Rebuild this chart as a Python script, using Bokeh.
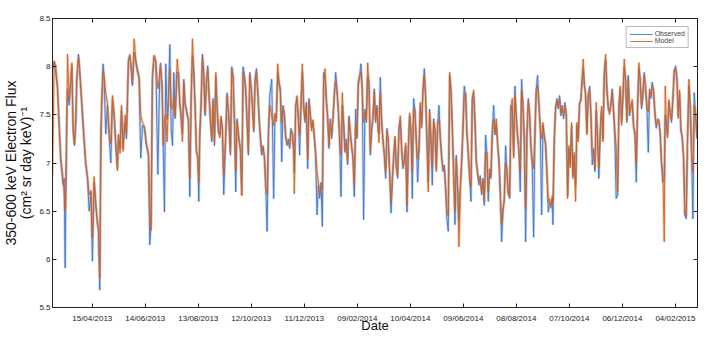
import pandas as pd
from bokeh.plotting import figure
from bokeh.models import (FixedTicker, LinearAxis, DatetimeAxis, Range1d, CustomLabelingPolicy,
                          Legend, LegendItem, DatetimeTickFormatter, ColumnDataSource)
from bokeh.embed import file_html
from bokeh.resources import INLINE

start_date = "2013-03-01"
end_date = "2015-03-01"

# days since start_date
days = [
 0, 1.9, 3.5, 5.7, 7.5, 8.3, 9.4, 10.6, 12.1, 13.2, 14.3, 15.8, 17.0, 18.9, 20.7, 21.9, 23.4, 24.9, 26.4, 27.5,
 29.4, 30.9, 33.2, 35.8, 37.7, 39.6, 41.5, 43.4, 45.2, 47.1, 49.0, 50.9, 52.0, 53.5, 54.7, 55.8, 57.3, 58.4, 60.3, 62.2,
 64.1, 66.0, 67.9, 69.8, 71.6, 73.5, 74.7, 76.5, 78.1, 79.9, 81.1, 82.2, 83.7, 86.0, 87.5, 89.0, 90.5, 92.4, 94.3, 96.2,
 98.0, 99.9, 101.8, 104.1, 106.3, 108.6, 110.1, 111.6, 113.1, 115.0, 116.9, 119.2, 121.4,
 122.2, 124.1, 125.2, 126.7, 128.2, 129.7, 131.2, 132.8, 134.3, 135.8, 137.3, 138.8, 141.1, 142.6, 144.1, 145.6, 147.1,
 148.6, 150.1, 151.6, 153.9, 155.4, 156.9, 158.4, 159.9, 161.4, 162.9, 164.4, 165.6, 166.7, 168.2, 169.7, 171.2, 172.7,
 174.2, 175.7, 177.3, 178.8, 180.3, 181.8, 183.3, 184.8, 186.3, 187.8, 189.3, 190.8, 192.3, 193.8, 195.7, 197.6, 199.5,
 201.4, 202.9, 204.4, 205.9, 207.4, 208.9, 210.8, 212.7, 214.2, 215.7, 217.2, 218.7, 220.2, 221.7, 223.3, 224.8, 226.3,
 227.8, 229.3, 230.8, 232.3, 233.8, 235.3, 236.8, 238.3, 239.9, 241.4, 242.9, 244.4, 245.9,
 248.1, 250.3, 251.8, 253.3, 254.9, 256.4, 257.9, 259.4, 260.9, 262.4, 263.9, 265.4, 266.9, 268.4, 269.9, 271.5, 273.0,
 273.7, 275.2, 276.7, 278.2, 279.7, 281.3, 282.8, 284.3, 285.8, 287.3, 288.8, 290.3, 291.8, 293.3, 294.8, 296.3, 297.8,
 299.4, 300.9, 302.4, 303.9, 305.4, 306.9, 308.4, 309.9, 311.4, 312.9, 314.4, 315.9, 317.5, 319.0, 320.5, 322.0, 323.5,
 325.0, 326.5, 328.0, 329.5, 331.0, 332.5, 334.0, 335.6, 337.1, 338.6, 340.1, 341.6, 343.1, 344.6, 346.1, 347.6, 349.1,
 350.6, 352.1, 353.7, 355.2, 356.7, 358.2, 359.7, 361.2, 362.7, 364.2, 365.7, 367.2, 368.7,
 369.5, 371.0, 372.5, 374.0, 375.5, 377.1, 378.6, 380.1, 381.6, 383.1, 384.6, 386.1, 387.6, 389.1, 390.6, 392.1, 393.6,
 395.2, 396.7, 398.2, 399.7, 401.2, 402.7, 404.2, 405.7, 407.2, 408.7, 410.2, 411.7, 413.3, 414.8, 416.3, 417.8, 419.3,
 420.8, 422.3, 423.8, 425.3, 426.8, 428.3, 429.8, 431.4, 432.9, 434.4, 435.9, 437.4, 438.9, 440.4, 441.9, 443.4, 444.9,
 446.4, 447.9, 449.5, 451.0, 452.5, 454.0, 455.5, 457.0, 458.5, 460.0, 461.5, 463.0, 464.5, 466.0, 467.6, 469.1, 470.6,
 472.1, 473.6, 475.1, 476.6, 478.1, 479.6, 481.1, 482.6, 484.1, 485.7, 487.2, 488.7, 490.2,
 491.7, 493.2, 494.7, 496.2, 497.7, 499.3, 500.8, 502.3, 503.8, 505.3, 506.8, 508.3, 509.8, 511.3, 512.8, 514.3, 515.8,
 517.4, 518.9, 520.4, 521.9, 523.4, 524.9, 526.4, 527.9, 529.4, 530.9, 532.4, 534.0, 535.5, 537.0, 538.5, 540.0, 541.5,
 543.0, 544.5, 546.0, 547.5, 549.0, 550.5, 552.0, 553.6, 555.1, 556.6, 558.1, 559.6, 561.1, 562.6, 564.1, 565.6, 566.4,
 567.9, 569.4, 570.9, 572.4, 573.9, 575.4, 576.9, 578.4, 579.9, 581.5, 583.0, 584.5, 586.0, 587.5, 589.0, 590.5, 592.0,
 593.5, 595.0, 596.5, 598.0, 599.6, 600.7, 601.8, 603.3, 604.8, 606.3, 607.9, 609.4, 610.9, 612.4,
 613.9, 615.4, 616.9, 618.4, 620.0, 621.5, 623.0, 624.5, 626.0, 627.5, 629.0, 630.5, 632.0, 633.5, 635.0, 636.5, 638.0,
 639.6, 641.1, 642.6, 644.1, 645.6, 647.1, 648.6, 650.1, 651.6, 653.1, 654.6, 656.1, 657.7, 659.2, 660.7, 662.2, 663.7,
 665.2, 666.7, 668.2, 669.7, 671.2, 672.7, 674.3, 675.8, 677.3, 678.8, 680.3, 681.8, 683.3, 684.8, 686.3, 687.8, 689.3,
 690.8, 692.4, 693.5, 694.6, 696.1, 697.6, 699.1, 700.6, 702.1, 703.7, 705.2, 706.7, 708.2, 709.7, 711.2, 712.7, 714.2,
 715.7, 717.2, 718.7, 720.3, 721.8, 723.3, 724.8, 726.3, 727.8, 729.3,
]

observed = [
 7.98, 8.05, 7.95, 7.77, 7.39, 7.22, 7.01, 6.91, 6.77, 6.84, 5.91, 7.25, 7.77, 7.60, 7.84, 8.01, 7.32, 7.18, 7.42, 7.89,
 8.13, 7.94, 7.60, 7.22, 6.98, 6.84, 6.50, 6.70, 5.98, 6.80, 6.56, 6.36, 6.29, 5.68, 7.36, 7.67, 8.03, 7.87, 7.30, 7.60,
 7.29, 7.00, 7.67, 7.49, 7.18, 6.94, 7.29, 7.15, 7.56, 7.15, 7.32, 7.42, 7.25, 8.08, 8.11, 7.98, 7.80, 8.15, 8.04, 7.94,
 7.87, 7.05, 7.39, 7.36, 7.18, 7.08, 6.15, 6.39, 7.91, 8.11, 8.04, 6.88, 7.91,
 8.04, 7.77, 7.22, 6.49, 8.03, 7.45, 7.67, 8.23, 7.36, 7.18, 7.94, 7.46, 7.94, 7.94, 7.60, 7.49, 7.30,
 7.87, 7.60, 7.56, 7.42, 6.65, 7.67, 8.12, 7.94, 7.60, 7.11, 7.08, 6.60, 7.29, 7.63, 8.13, 7.94, 7.49,
 7.84, 8.01, 7.67, 7.42, 7.22, 7.67, 7.18, 7.90, 7.60, 7.32, 7.29, 7.46, 7.36, 6.67, 7.18, 7.73, 7.46,
 7.08, 8.00, 7.91, 7.42, 6.70, 7.46, 7.25, 7.15, 6.67, 8.00, 7.91, 7.77, 7.42, 7.08, 7.94, 7.77, 7.60,
 7.32, 7.87, 7.98, 7.73, 7.49, 7.25, 7.08, 7.18, 7.04, 6.73, 6.29, 7.32, 7.70,
 7.87, 6.63, 7.49, 7.46, 7.95, 7.84, 7.77, 7.01, 7.60, 7.49, 7.29, 7.18, 7.25, 7.15, 7.36, 7.29, 7.11,
 6.90, 7.60, 7.67, 7.49, 7.08, 7.60, 7.95, 7.60, 7.42, 7.63, 6.94, 7.67, 7.49, 7.36, 7.42, 7.29, 7.08,
 6.46, 6.77, 6.63, 6.80, 6.34, 7.94, 7.90, 7.67, 7.46, 7.15, 7.46, 7.25, 7.49, 7.70, 7.94, 7.77, 7.53,
 7.25, 6.65, 7.60, 7.42, 7.11, 7.25, 6.98, 7.49, 7.29, 7.18, 7.04, 6.65, 7.56, 7.25, 7.84, 7.91, 8.03,
 7.77, 6.41, 7.56, 7.42, 7.90, 7.84, 7.08, 7.36, 7.46, 7.77, 7.42, 7.60, 7.32,
 7.30, 7.89, 7.42, 7.25, 7.08, 6.84, 7.36, 7.21, 6.91, 6.48, 6.80, 7.08, 7.25, 6.98, 6.84, 7.36, 7.45,
 7.15, 6.94, 7.04, 7.18, 6.49, 7.15, 7.49, 7.36, 6.63, 7.67, 7.53, 7.25, 6.80, 7.15, 7.60, 7.39, 7.77,
 7.98, 7.67, 7.25, 6.80, 7.56, 7.25, 6.77, 7.46, 7.32, 6.94, 7.39, 7.60, 7.25, 7.08, 6.91, 6.98, 6.73,
 6.42, 6.29, 7.91, 7.77, 7.36, 6.91, 6.36, 7.08, 6.73, 6.40, 6.73, 6.98, 7.36, 7.80, 7.70, 7.32, 7.08,
 6.87, 6.60, 7.67, 7.73, 7.46, 7.01, 6.91, 6.77, 6.87, 6.67, 6.84, 6.56, 7.29,
 7.08, 6.60, 6.94, 6.84, 7.32, 7.60, 7.29, 7.40, 7.21, 7.01, 6.67, 6.18, 6.49, 6.63, 7.18, 6.91, 6.70,
 6.63, 7.60, 7.55, 7.08, 7.80, 7.46, 7.29, 7.11, 6.70, 7.87, 7.60, 7.25, 6.18, 7.29, 7.67, 7.49, 7.18,
 6.98, 6.23, 7.32, 7.77, 7.91, 7.60, 7.39, 6.46, 7.39, 7.29, 7.18, 6.91, 6.49, 6.60, 6.56, 6.63, 6.36,
 7.25, 7.56, 7.67, 7.56, 7.70, 7.49, 7.60, 7.46, 7.63, 7.49, 6.66, 7.15, 6.98, 7.39, 6.87, 7.08, 6.75,
 7.39, 7.25, 7.60, 7.67, 7.87, 7.98, 7.84, 7.70, 7.32, 7.67, 7.80, 7.49, 6.98, 7.15,
 6.91, 7.55, 7.25, 6.84, 7.36, 7.56, 7.25, 7.94, 8.08, 7.77, 7.56, 7.53, 7.60, 7.77, 7.53, 7.25, 6.63,
 6.67, 7.60, 7.77, 7.42, 7.67, 8.00, 7.87, 7.42, 7.91, 7.49, 7.60, 7.63, 7.39, 7.29, 6.80, 7.60, 7.98,
 7.87, 7.56, 7.73, 7.94, 7.77, 7.60, 7.11, 7.77, 7.67, 7.84, 7.73, 7.53, 7.36, 7.46, 7.42, 7.32, 6.98,
 6.80, 6.85, 7.50, 7.42, 7.29, 7.63, 7.53, 7.42, 7.67, 7.94, 8.01, 7.87, 7.49, 7.73, 7.36, 7.25, 7.08,
 6.46, 6.42, 7.25, 7.80, 7.60, 7.08, 6.42, 7.73, 7.49, 7.25,
]

model = [
 6.87, 8.06, 8.02, 7.80, 7.42, 7.25, 7.05, 6.95, 6.80, 6.72, 6.51, 7.10, 8.13, 7.65, 7.88, 8.04, 7.35, 7.20, 7.45, 7.85,
 8.10, 7.95, 7.62, 7.25, 7.00, 6.86, 6.67, 6.72, 6.22, 6.86, 6.58, 6.40, 6.32, 5.80, 7.00, 7.62, 7.97, 7.90, 7.73, 7.62,
 7.32, 7.20, 7.70, 7.50, 7.20, 6.92, 7.30, 7.10, 7.60, 7.12, 7.35, 7.50, 7.30, 8.05, 8.13, 8.00, 7.82, 8.29, 8.07, 7.98,
 7.90, 7.49, 7.42, 7.38, 7.20, 7.10, 6.56, 6.30, 7.88, 8.12, 8.06, 7.77, 7.90,
 8.02, 7.80, 7.18, 7.46, 7.50, 7.22, 7.64, 7.98, 7.60, 7.56, 7.67, 7.48, 8.08, 7.92, 7.63, 7.46, 7.22,
 7.84, 7.62, 7.53, 7.45, 6.84, 7.64, 8.29, 7.96, 7.57, 7.14, 7.05, 6.80, 7.31, 7.60, 8.10, 7.91, 7.52,
 7.81, 7.98, 7.70, 7.45, 7.25, 7.64, 7.21, 7.94, 7.57, 7.35, 7.26, 7.49, 7.33, 6.87, 7.21, 7.70, 7.49,
 7.11, 7.97, 7.88, 7.45, 6.91, 7.43, 7.28, 7.12, 6.66, 7.95, 7.88, 7.74, 7.45, 7.11, 7.91, 7.80, 7.57,
 7.35, 7.84, 7.95, 7.76, 7.46, 7.28, 7.11, 7.15, 7.07, 6.76, 6.67, 7.29, 7.60,
 7.49, 7.39, 7.52, 7.43, 8.03, 7.81, 7.74, 7.42, 7.57, 7.52, 7.26, 7.21, 7.22, 7.18, 7.33, 7.32, 7.14,
 6.68, 7.57, 7.70, 7.46, 7.29, 7.63, 8.03, 7.57, 7.45, 7.60, 7.04, 7.64, 7.52, 7.33, 7.45, 7.26, 7.11,
 6.91, 6.80, 6.66, 6.77, 6.73, 7.80, 7.98, 7.64, 7.49, 7.18, 7.43, 7.28, 7.46, 7.73, 7.85, 7.74, 7.56,
 7.22, 7.08, 7.73, 7.39, 7.14, 7.22, 7.01, 7.46, 7.32, 7.15, 7.07, 6.77, 7.40, 7.28, 7.81, 7.88, 7.95,
 7.74, 7.42, 7.53, 7.45, 8.04, 7.81, 7.11, 7.33, 7.49, 7.74, 7.45, 7.57, 7.35,
 7.21, 7.73, 7.45, 7.22, 7.11, 6.91, 7.33, 7.24, 6.88, 6.59, 6.83, 7.05, 7.28, 6.95, 6.87, 7.33, 7.49,
 7.12, 6.97, 7.01, 7.21, 6.56, 7.12, 7.52, 7.33, 6.91, 7.55, 7.56, 7.22, 7.04, 7.12, 7.63, 7.36, 7.74,
 7.92, 7.70, 7.22, 6.70, 7.53, 7.28, 6.95, 7.43, 7.35, 6.91, 7.42, 7.45, 7.28, 7.05, 6.94, 6.95, 6.76,
 6.50, 6.45, 7.94, 7.74, 7.39, 6.88, 6.50, 7.05, 6.76, 6.13, 6.70, 7.01, 7.33, 7.70, 7.73, 7.29, 7.11,
 6.84, 6.75, 7.64, 7.76, 7.43, 7.04, 6.88, 6.80, 6.84, 6.70, 6.81, 6.60, 7.10,
 7.11, 6.70, 6.91, 6.87, 7.29, 7.45, 7.32, 7.46, 7.18, 7.04, 6.70, 6.36, 6.52, 6.60, 7.00, 6.94, 6.67,
 6.66, 7.57, 7.67, 7.05, 7.70, 7.49, 7.26, 7.14, 6.90, 7.75, 7.63, 7.22, 6.52, 7.32, 7.64, 7.52, 7.15,
 7.01, 6.94, 7.29, 7.74, 7.80, 7.63, 7.36, 7.25, 7.42, 7.26, 7.21, 6.88, 6.60, 6.63, 6.53, 6.66, 6.60,
 7.22, 7.59, 7.64, 7.59, 7.67, 7.52, 7.57, 7.49, 7.60, 7.52, 6.63, 7.18, 6.95, 7.42, 6.84, 7.11, 6.60,
 7.42, 7.22, 7.63, 7.64, 7.90, 8.08, 7.81, 7.73, 7.29, 7.70, 7.77, 7.52, 7.10, 7.12,
 6.94, 7.63, 7.22, 6.95, 7.33, 7.59, 7.22, 7.91, 8.13, 7.74, 7.59, 7.50, 7.63, 7.74, 7.56, 7.35, 7.15,
 6.70, 7.57, 7.80, 7.39, 7.70, 8.08, 7.84, 7.45, 7.88, 7.52, 7.57, 7.66, 7.36, 7.32, 6.98, 7.57, 8.04,
 7.84, 7.59, 7.70, 7.91, 7.80, 7.57, 7.53, 7.74, 7.70, 7.81, 7.76, 7.50, 7.39, 7.43, 7.45, 7.29, 7.01,
 6.91, 6.18, 7.80, 7.45, 7.26, 7.66, 7.50, 7.45, 7.64, 7.97, 7.98, 7.90, 7.46, 7.76, 7.33, 7.28, 7.05,
 6.48, 6.45, 7.22, 7.87, 7.57, 7.11, 6.90, 7.60, 7.52, 7.30,
]

xtick_labels = ["15/04/2013", "14/06/2013", "13/08/2013", "12/10/2013", "11/12/2013", "09/02/2014",
                "10/04/2014", "09/06/2014", "08/08/2014", "07/10/2014", "06/12/2014", "04/02/2015"]
yticks = [5.5, 6, 6.5, 7, 7.5, 8, 8.5]
series_names = ["Observed", "Model"]

t0 = pd.Timestamp(start_date)
times = t0 + pd.to_timedelta(days, unit="D")
src = ColumnDataSource(dict(t=times, obs=observed, mod=model))

xt = pd.to_datetime(xtick_labels, format="%d/%m/%Y")
xt_ms = [float(v) / 1e6 for v in xt.astype("int64")]

FONT = "Liberation Sans"
BLUE = "#4175c9"
ORANGE = "#d4621d"

p = figure(frame_width=645, frame_height=289, output_backend="svg", toolbar_location=None,
           x_axis_type="datetime",
           x_range=Range1d(t0, pd.Timestamp(end_date)), y_range=Range1d(yticks[0], yticks[-1]),
           min_border_left=44, min_border_right=9, min_border_top=18, min_border_bottom=38)
p.background_fill_color = "white"
p.border_fill_color = "white"
p.outline_line_color = "#222222"
p.outline_line_width = 1
p.grid.visible = False

# lines with light halo
p.line("t", "obs", source=src, color=BLUE, line_width=2.6, line_alpha=0.28)
r_obs = p.line("t", "obs", source=src, color=BLUE, line_width=0.9)
p.line("t", "mod", source=src, color=ORANGE, line_width=2.6, line_alpha=0.28)
r_mod = p.line("t", "mod", source=src, color=ORANGE, line_width=0.9)

fmt = DatetimeTickFormatter(microseconds="%d/%m/%Y", milliseconds="%d/%m/%Y", seconds="%d/%m/%Y",
                            minsec="%d/%m/%Y", minutes="%d/%m/%Y", hourmin="%d/%m/%Y", hours="%d/%m/%Y",
                            days="%d/%m/%Y", months="%d/%m/%Y", years="%d/%m/%Y")

def style(ax):
    ax.axis_line_color = "#222222"
    ax.major_tick_line_color = "#222222"
    ax.major_tick_in = 4
    ax.major_tick_out = 0
    ax.minor_tick_line_color = None
    ax.major_label_text_font = FONT
    ax.major_label_text_font_size = "8px"
    ax.major_label_text_color = "#222222"
    ax.axis_label_text_font = FONT
    ax.axis_label_text_font_style = "normal"
    ax.axis_label_text_color = "#111111"

xax = p.xaxis[0]
xax.ticker = FixedTicker(ticks=xt_ms)
xax.formatter = fmt
style(xax)
xax.major_label_standoff = 6
xax.axis_label = "Date"
xax.axis_label_text_font_size = "13px"
xax.axis_label_standoff = -8

yax = p.yaxis[0]
yax.ticker = FixedTicker(ticks=yticks)
yax.major_label_overrides = {v: f"{v:g}" for v in yticks}
style(yax)
yax.major_label_standoff = 2
yax.axis_label = "350-600 keV Electron Flux\n(cm\u00b2 sr day keV)\u207b\u00b9"
yax.axis_label_text_font_size = "14px"
yax.axis_label_text_line_height = 0.95
yax.axis_label_standoff = 2

no_labels = CustomLabelingPolicy(code="if (false) { yield 0 }")
top = DatetimeAxis(ticker=FixedTicker(ticks=xt_ms), formatter=fmt, major_label_policy=no_labels)
style(top)
top.major_label_standoff = 0
p.add_layout(top, "above")
right = LinearAxis(ticker=FixedTicker(ticks=yticks), major_label_policy=no_labels)
style(right)
right.major_label_standoff = 0
p.add_layout(right, "right")

legend = Legend(items=[LegendItem(label=series_names[0], renderers=[r_obs]),
                       LegendItem(label=series_names[1], renderers=[r_mod])],
                location="top_right")
legend.label_text_font = FONT
legend.label_text_font_size = "7px"
legend.label_height = 6
legend.glyph_height = 6
legend.glyph_width = 23
legend.spacing = 0
legend.padding = 3
legend.margin = 8
legend.label_standoff = 2
legend.border_line_color = "#777777"
legend.border_line_width = 1.5
legend.background_fill_alpha = 1
p.add_layout(legend, "center")

open("out.html", "w").write(file_html(p, INLINE))
